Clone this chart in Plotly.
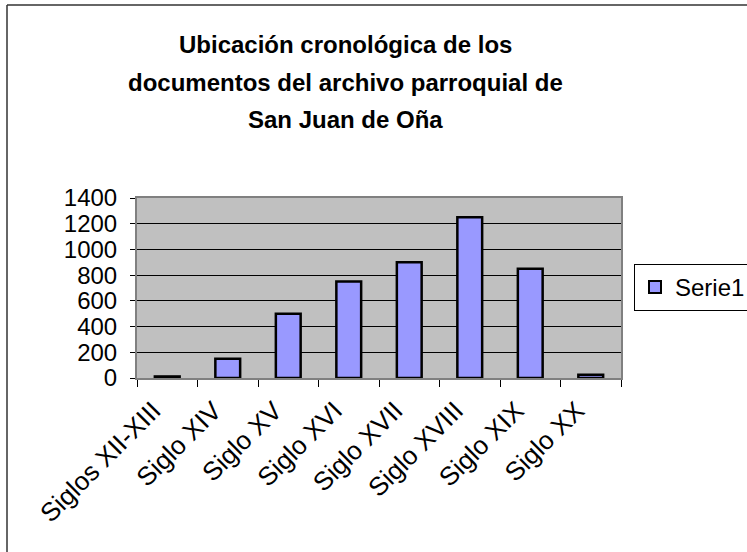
import plotly.graph_objects as go

categories = ["Siglos XII-XIII", "Siglo XIV", "Siglo XV", "Siglo XVI",
              "Siglo XVII", "Siglo XVIII", "Siglo XIX", "Siglo XX"]
values = [12, 150, 500, 750, 900, 1250, 850, 25]
series_name = "Serie1"
title_lines = ["Ubicación cronológica de los",
               "documentos del archivo parroquial de",
               "San Juan de Oña"]
y_ticks = [0, 200, 400, 600, 800, 1000, 1200, 1400]

W, H = 747, 552
L, R, T, B = 137, 621, 198, 378  # plot area in px
pw, ph = R - L, B - T

def px_x(x):
    return (x - L) / pw

def px_y(y):
    return (B - y) / ph

FONT = "Arial, Liberation Sans, sans-serif"

fig = go.Figure()
fig.add_trace(go.Bar(
    x=categories, y=values, name=series_name,
    marker=dict(color="#9999FF", line=dict(color="black", width=2.5)),
    showlegend=True,
))

fig.update_layout(
    width=W, height=H,
    margin=dict(l=L, r=W - R, t=T, b=H - B, autoexpand=False),
    paper_bgcolor="white",
    plot_bgcolor="#C0C0C0",
    font=dict(family=FONT, size=24, color="black"),
    bargap=0.59,
    showlegend=True,
    legend=dict(
        x=px_x(634), y=px_y(264), xanchor="left", yanchor="top",
        bordercolor="black", borderwidth=1, bgcolor="white",
        font=dict(family=FONT, size=24, color="black"),
        itemsizing="constant",
    ),
    xaxis=dict(
        type="category",
        tickangle=-45,
        ticks="outside", tickson="boundaries", ticklen=7, tickcolor="black",
        showline=True, linecolor="#808080", linewidth=2, mirror=True,
        showgrid=False,
        tickfont=dict(family=FONT, size=26, color="black"),
        ticklabelshift=-14,
        ticklabelstandoff=5,
    ),
    yaxis=dict(
        range=[0, 1400],
        tickvals=y_ticks,
        ticks="outside", ticklen=5, tickcolor="black",
        showline=True, linecolor="#808080", linewidth=2, mirror=True,
        showgrid=True, gridcolor="black", gridwidth=1,
        zeroline=False,
        tickfont=dict(family=FONT, size=24, color="black"),
        ticklabelstandoff=8,
    ),
)

for line, yc in zip(title_lines, [45, 82, 119]):
    fig.add_annotation(
        text="<b>%s</b>" % line, xref="paper", yref="paper",
        x=px_x(345), y=px_y(yc), xanchor="center", yanchor="middle",
        showarrow=False, font=dict(family=FONT, size=24, color="black"),
    )

# chart-area border (top and left edges visible)
fig.add_shape(type="line", xref="paper", yref="paper",
              x0=px_x(7), x1=px_x(760), y0=px_y(5), y1=px_y(5),
              line=dict(color="#333333", width=1.5))
fig.add_shape(type="line", xref="paper", yref="paper",
              x0=px_x(7), x1=px_x(7), y0=px_y(5), y1=px_y(560),
              line=dict(color="#333333", width=1.5))

fig.write_html(
    "out.html",
    config={"displayModeBar": False},
    post_script="document.body.style.margin='0';document.body.style.overflow='hidden';",
)
